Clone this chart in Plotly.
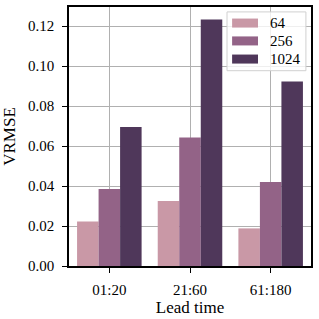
import plotly.graph_objects as go

categories = ["01:20", "21:60", "61:180"]
series_names = ["64", "256", "1024"]
vals_64 = [0.0223, 0.0325, 0.0188]
vals_256 = [0.0385, 0.0642, 0.0420]
vals_1024 = [0.0695, 0.1232, 0.0922]
colors = ["#c998a6", "#936387", "#4f375a"]
yticks = [0.00, 0.02, 0.04, 0.06, 0.08, 0.10, 0.12]

series_vals = [vals_64, vals_256, vals_1024]
FONT = "Liberation Serif"

fig = go.Figure()
for name, vals, col in zip(series_names, series_vals, colors):
    fig.add_trace(go.Bar(x=categories, y=vals, name=name, marker_color=col,
                         marker_line_width=0, showlegend=False))

fig.update_layout(
    width=319, height=319,
    margin=dict(l=69, r=8, t=7, b=53, autoexpand=False),
    barmode="group", bargap=0.2, bargroupgap=0,
    plot_bgcolor="white", paper_bgcolor="white",
    font=dict(family=FONT, size=15, color="black"),
    xaxis=dict(
        title=dict(text="Lead time", font=dict(size=17), standoff=0),
        range=[-0.5, 2.5], showgrid=True, gridcolor="#b0b0b0", gridwidth=1,
        showline=True, linecolor="black", linewidth=1.5, mirror=True,
        ticks="outside", ticklen=5, tickwidth=1.3, tickcolor="black",
        tickfont=dict(size=15), ticklabelstandoff=4,
    ),
    yaxis=dict(
        title=dict(text="VRMSE", font=dict(size=17), standoff=8),
        range=[0, 0.1295], tickvals=yticks,
        ticktext=[f"{v:.2f}" for v in yticks],
        showgrid=True, gridcolor="#b0b0b0", gridwidth=1, zeroline=False,
        showline=True, linecolor="black", linewidth=1.5, mirror=True,
        ticks="outside", ticklen=5, tickwidth=1.3, tickcolor="black",
        tickfont=dict(size=15), ticklabelstandoff=5,
    ),
)

# custom legend (matplotlib style)
fig.add_shape(type="rect", xref="paper", yref="paper",
              x0=0.653, x1=0.979, y0=0.754, y1=0.981,
              fillcolor="rgba(255,255,255,0.8)", line=dict(color="#d0d0d0", width=1),
              layer="above")
ys = [0.938, 0.869, 0.799]
for name, col, yc in zip(series_names, colors, ys):
    fig.add_shape(type="rect", xref="paper", yref="paper",
                  x0=0.674, x1=0.781, y0=yc - 0.0174, y1=yc + 0.0174,
                  fillcolor=col, line=dict(width=0), layer="above")
    fig.add_annotation(xref="paper", yref="paper", x=0.822, y=yc, text=name,
                       showarrow=False, xanchor="left", yanchor="middle",
                       font=dict(family=FONT, size=15, color="black"))

fig.write_html("out.html", config={"displayModeBar": False},
               post_script="document.body.style.margin='0';document.body.style.overflow='hidden';")
